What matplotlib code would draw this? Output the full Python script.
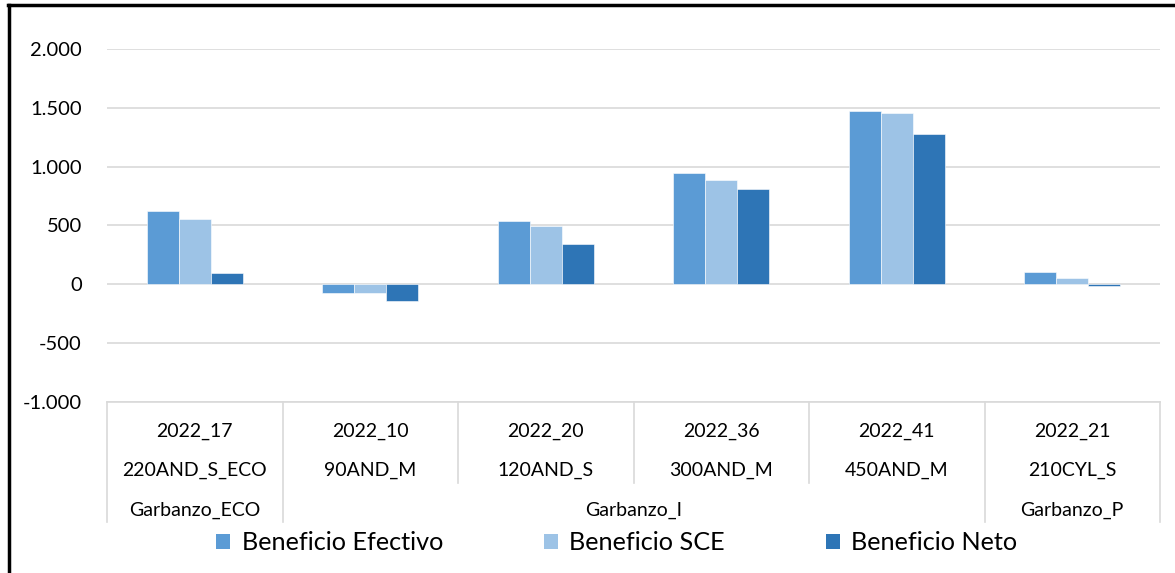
import numpy as np
import matplotlib.pyplot as plt
from matplotlib.patches import Patch
from matplotlib.lines import Line2D

plt.rcParams['font.family'] = ['Lato', 'DejaVu Sans']

# data
ensayos = ['2022_17', '2022_10', '2022_20', '2022_36', '2022_41', '2022_21']
variedades = ['220AND_S_ECO', '90AND_M', '120AND_S', '300AND_M', '450AND_M', '210CYL_S']
grupos = ['Garbanzo_ECO', 'Garbanzo_I', 'Garbanzo_P']
grupo_span = [(0, 0), (1, 4), (5, 5)]
series = ['Beneficio Efectivo', 'Beneficio SCE', 'Beneficio Neto']
efectivo = [627, -76, 534, 947, 1469, 102]
sce = [551, -76, 492, 887, 1455, 57]
neto = [93, -138, 347, 811, 1277, -17]
colores = ['#5B9BD5', '#9DC3E6', '#2E75B6']

fig = plt.figure(figsize=(11.75, 5.73), dpi=100)
W, H = 1175, 573
ax = fig.add_axes([107 / W, 1 - 402 / H, (1160 - 107) / W, (402 - 49) / H])

x = np.arange(len(ensayos))
bw = 0.183
for i, (vals, c) in enumerate(zip([efectivo, sce, neto], colores)):
    ax.bar(x + (i - 1) * bw, vals, bw, color=c, edgecolor='white', linewidth=0.4, zorder=3)

ax.set_xlim(-0.5, len(ensayos) - 0.5)
ax.set_ylim(-1000, 2000)
ax.set_yticks(range(-1000, 2001, 500))
ax.set_yticklabels([f'{v:,}'.replace(',', '.') for v in range(-1000, 2001, 500)], fontsize=14.5)
ax.tick_params(axis='y', length=0, pad=18)
ax.set_xticks([])
ax.grid(axis='y', color='#D9D9D9', linewidth=1.2, zorder=0)
for s in ['left', 'right', 'top']:
    ax.spines[s].set_visible(False)
ax.spines['bottom'].set_color('#D9D9D9')
ax.spines['bottom'].set_linewidth(1.2)

# multi-level category table
tr = ax.get_xaxis_transform()
full_bottom = (402 - 522) / 353
part_bottom = (402 - 483) / 353
bounds = np.arange(-0.5, len(ensayos), 1.0)
group_edges = {-0.5, 0.5, 4.5, 5.5}
for b in bounds:
    yb = full_bottom if b in group_edges else part_bottom
    ax.plot([b, b], [0, yb], transform=tr, color='#D9D9D9', lw=1.2, clip_on=False)

for i in range(len(ensayos)):
    ax.text(i, (402 - 431) / 353, ensayos[i], transform=tr, ha='center', va='center', fontsize=14)
    ax.text(i, (402 - 470) / 353, variedades[i], transform=tr, ha='center', va='center', fontsize=14)
for g, (a, b) in zip(grupos, grupo_span):
    ax.text((a + b) / 2, (402 - 510) / 353, g, transform=tr, ha='center', va='center', fontsize=14)

handles = [Patch(facecolor=c, edgecolor='none') for c in colores]
fig.legend(handles, series, loc='center', bbox_to_anchor=(617 / W, 1 - 543 / H), ncol=3,
           frameon=False, fontsize=18.2, handlelength=0.55, handleheight=0.55,
           handletextpad=0.45, columnspacing=4.0)

# outer frame (top and left visible)
fig.add_artist(Line2D([8 / W, 1], [1 - 5 / H, 1 - 5 / H], color='black', lw=2.5, transform=fig.transFigure))
fig.add_artist(Line2D([9 / W, 9 / W], [0, 1 - 5 / H], color='black', lw=2.5, transform=fig.transFigure))

fig.savefig('out.png', dpi=100)
